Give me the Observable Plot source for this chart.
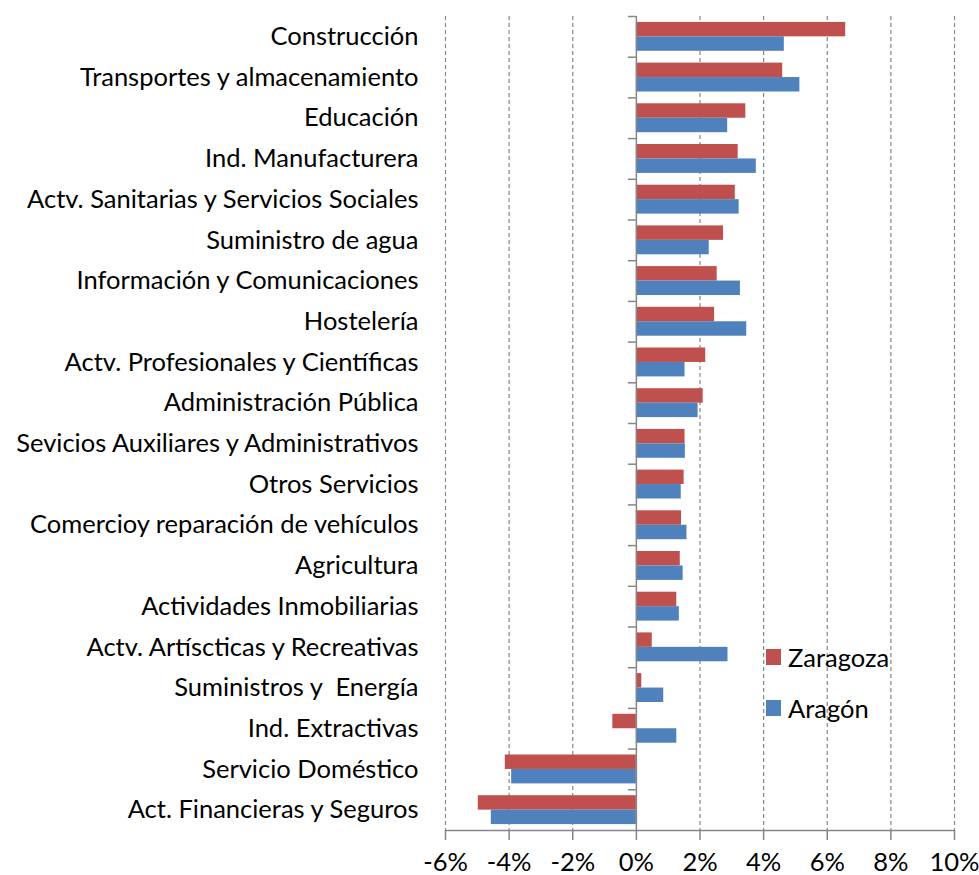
<!DOCTYPE html>
<html>
<head>
<meta charset="utf-8">
<script src="https://cdn.jsdelivr.net/npm/d3@7"></script>
<script src="https://cdn.jsdelivr.net/npm/@observablehq/plot@0.6"></script>
<style>
  html, body { margin: 0; padding: 0; background: #fff; }
  #wrap { position: relative; width: 979px; height: 875px; }
  #legend { position: absolute; left: 766px; top: 631px; font-family: Lato, sans-serif; font-size: 25.5px; color: #000; }
  #legend .row { display: flex; align-items: center; height: 51px; }
  #legend .sw { width: 15px; height: 16px; margin-right: 7px; }
</style>
</head>
<body>
<div id="wrap"><div id="chart"></div>
<div id="legend"></div></div>
<script>
const categories = [
  "Construcción",
  "Transportes y almacenamiento",
  "Educación",
  "Ind. Manufacturera",
  "Actv. Sanitarias y Servicios Sociales",
  "Suministro de agua",
  "Información y Comunicaciones",
  "Hostelería",
  "Actv. Profesionales y Científicas",
  "Administración Pública",
  "Sevicios Auxiliares y Administrativos",
  "Otros Servicios",
  "Comercioy reparación de vehículos",
  "Agricultura",
  "Actividades Inmobiliarias",
  "Actv. Artíscticas y Recreativas",
  "Suministros y  Energía",
  "Ind. Extractivas",
  "Servicio Doméstico",
  "Act. Financieras y Seguros"
];
const zaragoza = [6.58, 4.60, 3.44, 3.20, 3.11, 2.74, 2.54, 2.46, 2.18, 2.10, 1.53, 1.50, 1.42, 1.38, 1.27, 0.50, 0.17, -0.74, -4.12, -4.97];
const aragon   = [4.65, 5.14, 2.87, 3.77, 3.23, 2.29, 3.27, 3.47, 1.53, 1.94, 1.54, 1.41, 1.59, 1.47, 1.35, 2.88, 0.86, 1.27, -3.92, -4.56];
const xTicks = [-6, -4, -2, 0, 2, 4, 6, 8, 10];
const seriesNames = ["Zaragoza", "Aragón"];
const seriesColors = ["#C0504D", "#4F81BD"];

const data = categories.map((c, i) => ({cat: c, z: zaragoza[i], a: aragon[i]}));

const W = 979, H = 875, mt = 16, mb = 45, ml = 445, mr = 25;
const step = (H - mt - mb) / categories.length;
const bw = step * 0.71;
const grey = "#868686";
const tickLen = 8 / ((W - ml - mr) / 16);

const chart = Plot.plot({
  width: W, height: H,
  marginTop: mt, marginBottom: mb, marginLeft: ml, marginRight: mr,
  style: {fontFamily: "Lato, sans-serif", fontSize: "25.5px", color: "#000", background: "#fff", overflow: "visible"},
  x: {domain: [-6, 10], label: null},
  y: {domain: categories, paddingInner: 0.29, paddingOuter: 0.145, round: false, label: null},
  marks: [
    Plot.ruleX(xTicks.filter(d => d !== 0), {stroke: grey, strokeDasharray: "4,3", strokeWidth: 1.2}),
    Plot.barX(data, {y: "cat", x: "z", fill: seriesColors[0], insetBottom: bw / 2}),
    Plot.barX(data, {y: "cat", x: "a", fill: seriesColors[1], insetTop: bw / 2}),
    Plot.ruleX([0], {stroke: grey, strokeWidth: 1.5}),
    Plot.ruleY(categories, {y: d => d, x1: -tickLen, x2: 0, dy: -step / 2, stroke: grey, strokeWidth: 1.5}),
    Plot.ruleY([categories[categories.length - 1]], {y: d => d, x1: -6, x2: 10, dy: step / 2, stroke: grey, strokeWidth: 1.5}),
    Plot.axisX({ticks: xTicks, tickFormat: d => d + "%", tickSize: 10, tickPadding: 12, stroke: grey, strokeWidth: 1.5, fill: "#000"}),
    Plot.axisY({tickSize: 0, tickPadding: 27, textAnchor: "end", fill: "#000"})
  ]
});
document.getElementById("chart").appendChild(chart);

const legend = document.getElementById("legend");
seriesNames.forEach((n, i) => {
  const row = document.createElement("div");
  row.className = "row";
  row.innerHTML = `<div class="sw" style="background:${seriesColors[i]}"></div><span>${n}</span>`;
  legend.appendChild(row);
});
</script>
</body>
</html>
